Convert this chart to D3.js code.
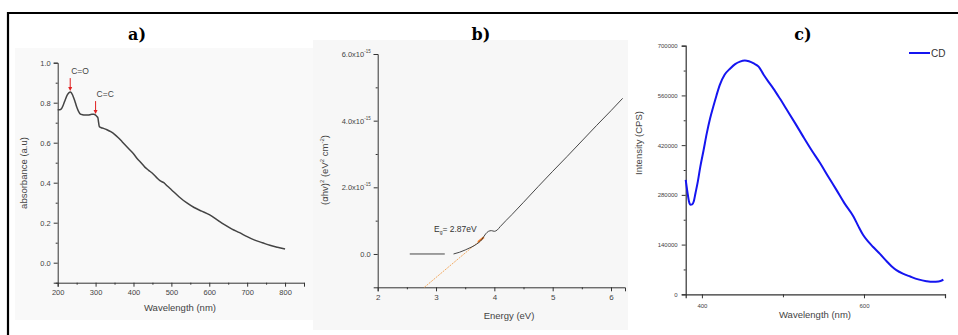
<!DOCTYPE html>
<html>
<head>
<meta charset="utf-8">
<script src="https://cdn.jsdelivr.net/npm/d3@7"></script>
<style>
  html, body { margin:0; padding:0; background:#fff; }
  svg { display:block; }
  .tick text { fill:#444; font-family:"Liberation Sans", Arial, sans-serif; }
  .domain, .tick line { stroke:#333; }
</style>
</head>
<body>
<div id="chart"></div>
<script>
// ---- panel a: UV-vis absorbance ----
const absWavelength = [200,205,210,215,220,225,230,233,236,240,245,250,255,260,265,270,280,290,295,300,304,306,308,310,315,320,330,340,350,360,370,380,390,400,410,420,430,440,450,460,470,480,490,500,520,540,560,580,600,620,640,660,680,700,720,740,760,780,800];
const absValue      = [0.765,0.765,0.770,0.790,0.815,0.838,0.850,0.853,0.850,0.835,0.810,0.780,0.757,0.743,0.740,0.738,0.738,0.742,0.742,0.738,0.730,0.725,0.700,0.680,0.675,0.672,0.665,0.655,0.642,0.625,0.605,0.585,0.565,0.545,0.520,0.500,0.478,0.462,0.447,0.428,0.410,0.400,0.382,0.365,0.330,0.300,0.276,0.258,0.240,0.215,0.190,0.168,0.150,0.130,0.113,0.100,0.087,0.077,0.068];
const absXTicks = [200,300,400,500,600,700,800];
const absYTicks = [0.0,0.2,0.4,0.6,0.8,1.0];
const absMarks  = [{label:"C=O", x:233, y:0.853}, {label:"C=C", x:300, y:0.738}];

// ---- panel b: Tauc plot, values in units of 1e-15 ----
const taucFlatE   = [2.55,3.15];
const taucFlatV   = [0.0,0.0];
const taucEnergy  = [3.30,3.40,3.50,3.60,3.70,3.78,3.85,3.90,3.95,4.00,4.05,4.10,4.30,4.50,4.75,5.00,5.25,5.50,5.75,6.00,6.20];
const taucValue   = [0.00,0.05,0.12,0.20,0.30,0.42,0.60,0.68,0.70,0.68,0.72,0.82,1.18,1.55,2.02,2.48,2.93,3.39,3.85,4.30,4.67];
const fitEnergy   = [2.80,3.82];
const fitValue    = [-1.00,0.50];
const taucXTicks  = [2,3,4,5,6];
const taucYTicks  = [0,2,4,6];
const gapLabel    = "2.87eV";

// ---- panel c: photoluminescence ----
const plWavelength = [380,382,384,386,388,390,392,395,398,402,406,410,414,418,422,428,435,441,447,453,458,464,470,476,482,488,496,505,515,525,535,546,556,566,576,587,593,599,605,611,620,628,634,640,648,657,667,677,685,692,698];
const plIntensity  = [322000,290000,262000,252000,253000,262000,284000,318000,359000,405000,453000,494000,528000,560000,589000,618000,636000,648000,655000,658000,656000,650000,641000,619000,599000,580000,552000,519000,482000,444000,407000,369000,331000,294000,256000,219000,192000,167000,149000,134000,113000,93000,79000,68000,58000,50000,42000,37000,35000,36000,41000];
const plXTicks = [400,600];
const plYTicks = [0,140000,280000,420000,560000,700000];
const plLegend = "CD";

const W = 958, H = 335;
const svg = d3.select("#chart").append("svg").attr("width",W).attr("height",H);

// pasted-image backgrounds + frame
svg.append("rect").attr("x",15).attr("y",48).attr("width",300).attr("height",272).attr("fill","#f9f9f9");
svg.append("rect").attr("x",313).attr("y",40).attr("width",315).attr("height",290).attr("fill","#f7f7f7");
svg.append("path").attr("d","M8,335V13H958").attr("fill","none").attr("stroke","#000").attr("stroke-width",2.2);

const titleFont = "'DejaVu Serif', 'Liberation Serif', serif";
const sans = "'Liberation Sans', Arial, sans-serif";
function title(x, t) {
  svg.append("text").attr("x",x).attr("y",40).attr("text-anchor","middle")
    .attr("font-family",titleFont).attr("font-weight","bold").attr("font-size",16).text(t);
}
function minorTicks(g, axisFn, scale, vals, size) {
  g.append("g").call(axisFn(scale).tickValues(vals).tickSize(size).tickFormat(""))
    .call(s => s.select(".domain").remove());
}

// ================= a) =================
title(137, "a)");
const xa = d3.scaleLinear().domain([200,850]).range([57.7,304]);
const ya = d3.scaleLinear().domain([-0.1,1.0]).range([282.7,62.7]);
const ga = svg.append("g").attr("color","#444");
ga.append("g").attr("transform","translate(0,282.7)")
  .call(d3.axisBottom(xa).tickValues(absXTicks).tickSize(4).tickPadding(3))
  .call(s => s.selectAll("text").attr("font-size",7.5));
minorTicks(ga.append("g").attr("transform","translate(0,282.7)"), d3.axisBottom, xa, d3.range(250,851,100), 2);
ga.append("g").attr("transform","translate(57.7,0)")
  .call(d3.axisLeft(ya).tickValues(absYTicks).tickSize(4).tickPadding(3).tickFormat(d3.format(".1f")))
  .call(s => s.selectAll("text").attr("font-size",7.5));
minorTicks(ga.append("g").attr("transform","translate(57.7,0)"), d3.axisLeft, ya, [-0.1,0.1,0.3,0.5,0.7,0.9], 2);

ga.append("path").datum(d3.zip(absWavelength, absValue))
  .attr("fill","none").attr("stroke","#444").attr("stroke-width",1.5)
  .attr("d", d3.line().x(d=>xa(d[0])).y(d=>ya(d[1])).curve(d3.curveMonotoneX));

absMarks.forEach(m => {
  const px = xa(m.x), py = ya(m.y);
  ga.append("line").attr("x1",px).attr("x2",px).attr("y1",py-14).attr("y2",py-4)
    .attr("stroke","#e02020").attr("stroke-width",1);
  ga.append("path").attr("d",`M${px-2},${py-5}L${px+2},${py-5}L${px},${py-1}Z`).attr("fill","#e02020");
  ga.append("text").attr("x",px+1).attr("y",py-18).attr("font-family",sans).attr("font-size",8.5)
    .attr("fill","#444").text(m.label);
});

ga.append("text").attr("transform","translate(27,173)rotate(-90)").attr("text-anchor","middle")
  .attr("font-family",sans).attr("font-size",9.5).attr("fill","#444").text("absorbance (a.u)");
ga.append("text").attr("x",180).attr("y",311).attr("text-anchor","middle")
  .attr("font-family",sans).attr("font-size",9.5).attr("fill","#444").text("Wavelength (nm)");

// ================= b) =================
title(481, "b)");
const xb = d3.scaleLinear().domain([2,6.24]).range([377.7,625]);
const yb = d3.scaleLinear().domain([-1,6]).range([287.3,54]);
const gb = svg.append("g").attr("color","#333");
gb.append("g").attr("transform","translate(0,287.3)")
  .call(d3.axisBottom(xb).tickValues(taucXTicks).tickSize(4).tickPadding(3).tickFormat(d3.format("d")))
  .call(s => s.selectAll("text").attr("font-size",8));
minorTicks(gb.append("g").attr("transform","translate(0,287.3)"), d3.axisBottom, xb, [2.5,3.5,4.5,5.5], 2);
gb.append("g").attr("transform","translate(377.7,0)")
  .call(d3.axisLeft(yb).tickValues(taucYTicks).tickSize(4).tickPadding(3))
  .call(s => s.selectAll("text").attr("font-size",7.5).each(function(d){
    const t = d3.select(this).text("");
    if (d === 0) { t.text("0.0"); return; }
    t.append("tspan").text(d3.format(".1f")(d) + "x10");
    t.append("tspan").attr("font-size",4.5).attr("dy",-4).text("-15");
  }));
minorTicks(gb.append("g").attr("transform","translate(377.7,0)"), d3.axisLeft, yb, [1,3,5], 2);

const lineB = d3.line().x(d=>xb(d[0])).y(d=>yb(d[1]));
gb.append("path").datum(d3.zip(fitEnergy, fitValue)).attr("d", lineB)
  .attr("fill","none").attr("stroke","#f0a050").attr("stroke-width",0.9).attr("stroke-dasharray","2,1");
gb.append("path").datum([[3.72,0.36],[3.82,0.5]]).attr("d", lineB)
  .attr("fill","none").attr("stroke","#f07820").attr("stroke-width",2);
gb.append("path").datum(d3.zip(taucFlatE, taucFlatV)).attr("d", lineB)
  .attr("fill","none").attr("stroke","#333").attr("stroke-width",0.9);
gb.append("path").datum(d3.zip(taucEnergy, taucValue))
  .attr("d", lineB.curve(d3.curveMonotoneX))
  .attr("fill","none").attr("stroke","#333").attr("stroke-width",0.9);

const eg = gb.append("text").attr("x",434).attr("y",232).attr("font-family",sans).attr("font-size",8.5).attr("fill","#333");
eg.append("tspan").text("E");
eg.append("tspan").attr("font-size",5).attr("dy",2).text("g");
eg.append("tspan").attr("dy",-2).text("= " + gapLabel);

const yl = gb.append("text").attr("transform","translate(328,170)rotate(-90)").attr("text-anchor","middle")
  .attr("font-family",sans).attr("font-size",9.5).attr("fill","#444");
yl.append("tspan").text("(\u03b1hv)");
yl.append("tspan").attr("font-size",6).attr("dy",-4).text("2");
yl.append("tspan").attr("dy",4).text(" (eV");
yl.append("tspan").attr("font-size",6).attr("dy",-4).text("2");
yl.append("tspan").attr("dy",4).text(" cm");
yl.append("tspan").attr("font-size",6).attr("dy",-4).text("-2");
yl.append("tspan").attr("dy",4).text(")");
gb.append("text").attr("x",509).attr("y",319).attr("text-anchor","middle")
  .attr("font-family",sans).attr("font-size",9.5).attr("fill","#444").text("Energy (eV)");

// ================= c) =================
title(803, "c)");
const xc = d3.scaleLinear().domain([380,700]).range([685.7,945]);
const yc = d3.scaleLinear().domain([0,700000]).range([294.3,45.7]);
const gc = svg.append("g").attr("color","#555");
gc.append("g").attr("transform","translate(0,294.3)")
  .call(d3.axisBottom(xc).tickValues(plXTicks).tickSize(4).tickPadding(5))
  .call(s => s.selectAll("text").attr("font-size",6));
minorTicks(gc.append("g").attr("transform","translate(0,294.3)"), d3.axisBottom, xc, [500,700], 3);
gc.append("g").attr("transform","translate(685.7,0)")
  .call(d3.axisLeft(yc).tickValues(plYTicks).tickSize(4).tickPadding(4).tickFormat(d3.format("d")))
  .call(s => s.selectAll("text").attr("font-size",6));
minorTicks(gc.append("g").attr("transform","translate(685.7,0)"), d3.axisLeft, yc, [70000,210000,350000,490000,630000], 2);
gc.selectAll(".domain").attr("stroke-width",1.2).attr("stroke","#555");

gc.append("path").datum(d3.zip(plWavelength, plIntensity))
  .attr("fill","none").attr("stroke","#1515f0").attr("stroke-width",2)
  .attr("d", d3.line().x(d=>xc(d[0])).y(d=>yc(d[1])).curve(d3.curveMonotoneX));

gc.append("line").attr("x1",909).attr("x2",930).attr("y1",53).attr("y2",53).attr("stroke","#1515f0").attr("stroke-width",2);
gc.append("text").attr("x",931).attr("y",57).attr("font-family",sans).attr("font-size",10).attr("fill","#333").text(plLegend);

gc.append("text").attr("transform","translate(642,143)rotate(-90)").attr("text-anchor","middle")
  .attr("font-family",sans).attr("font-size",9.5).attr("fill","#444").text("Intensity (CPS)");
gc.append("text").attr("x",815).attr("y",318).attr("text-anchor","middle")
  .attr("font-family",sans).attr("font-size",9.5).attr("fill","#444").text("Wavelength (nm)");
</script>
</body>
</html>
